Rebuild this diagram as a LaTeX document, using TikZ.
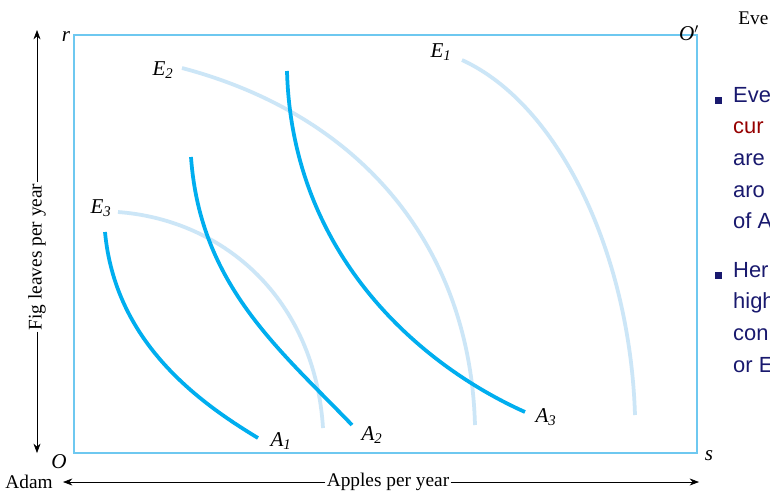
\documentclass[tikz,border=0pt]{standalone}
\usepackage{fontspec}
\setmainfont{Liberation Serif}
\setsansfont{Liberation Sans}
\usetikzlibrary{arrows.meta,positioning}
\definecolor{boxblue}{RGB}{110,200,240}
\definecolor{adamblue}{RGB}{0,174,239}
\definecolor{eveblue}{RGB}{204,230,247}
\definecolor{navytext}{RGB}{25,25,110}
\definecolor{redtext}{RGB}{150,0,0}

\begin{document}
\begin{tikzpicture}[
    x=0.03cm, y=-0.03cm,
    axis/.style={->, >={Stealth[length=8pt,width=6pt]}, line width=0.6pt},
    lbl/.style={font=\fontsize{18}{18}\selectfont\itshape, inner sep=1pt},
    axlbl/.style={font=\fontsize{16.5}{16.5}\selectfont, inner sep=1pt},
    adam/.style={draw=adamblue, line width=3.2pt},
    eve/.style={draw=eveblue, line width=3.2pt},
    bullet/.style={font=\sffamily\fontsize{18.7}{27}\selectfont, text=navytext, anchor=north west, align=left, inner sep=0pt}
]
\clip (0,0) rectangle (770,493);
\fill[white] (0,0) rectangle (770,493);

% Edgeworth box
\draw[boxblue, line width=1.4pt] (74,35) rectangle (697,453);

% corner labels
\node[lbl] (r) at (66,37) {r};
\node[lbl] (o) at (59,462) {O};
\node[lbl] (op) at (689,33) {O$'$};
\node[lbl] (s) at (709,456) {s};
\node[axlbl, anchor=west] (eve) at (737,18) {Eve};
\node[axlbl] (adamlbl) at (29,482) {Adam};

% axes
\node[axlbl] (apples) at (388,482) {Apples per year};
\coordinate (xl) at (63,482);
\coordinate (xr) at (699,482);
\draw[axis] (apples) -- (xl);
\draw[axis] (apples) -- (xr);

\node[axlbl, rotate=90] (fig) at (37,257) {Fig leaves per year};
\coordinate (yt) at (37,30);
\coordinate (yb) at (37,453);
\draw[axis] (fig) -- (yt);
\draw[axis] (fig) -- (yb);

% Eve's indifference curves
\draw[eve] (462,60) .. controls (560,105) and (630,255) .. (635,415);
\draw[eve] (182,68) .. controls (360,115) and (470,245) .. (475,425);
\draw[eve] (118,212) .. controls (225,220) and (315,300) .. (323,428);
\node[lbl] (e1) at (441,52) {E\textsubscript{1}};
\node[lbl] (e2) at (163,70) {E\textsubscript{2}};
\node[lbl] (e3) at (101,208) {E\textsubscript{3}};

% Adam's indifference curves
\draw[adam] (105,232) .. controls (115,340) and (195,400) .. (258,438);
\draw[adam] (191,157) .. controls (200,285) and (280,350) .. (352,425);
\draw[adam] (287,71) .. controls (292,255) and (420,365) .. (525,412);
\node[lbl] (a1) at (281,441) {A\textsubscript{1}};
\node[lbl] (a2) at (372,435) {A\textsubscript{2}};
\node[lbl] (a3) at (546,417) {A\textsubscript{3}};

% bullet text
\fill[navytext] (715,97) rectangle (722,104);
\node[bullet] (t1) at (733,87) {Eve\\\textcolor{redtext}{cur}\\are\\aro\\of A};
\fill[navytext] (715,272) rectangle (722,279);
\node[bullet] (t2) at (733,262) {Her\\high\\con\\or E};
\end{tikzpicture}
\end{document}
